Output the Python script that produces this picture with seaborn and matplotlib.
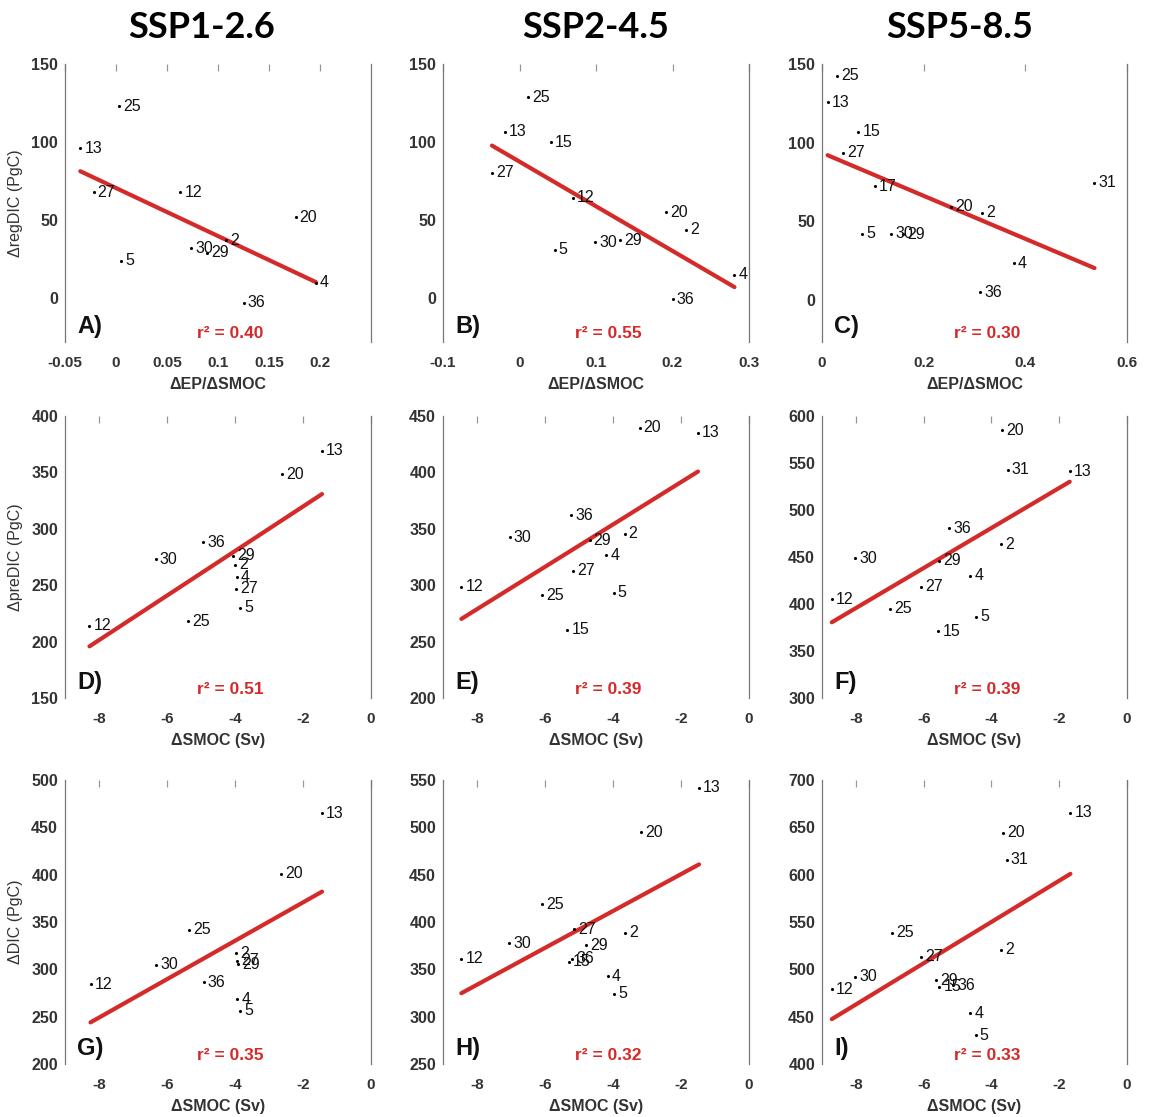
import numpy as np
import pandas as pd
import matplotlib
matplotlib.use("Agg")
import matplotlib.pyplot as plt
import seaborn as sns

# column titles, panel letters and r^2 shown on each panel
scenarios = ["SSP1-2.6", "SSP2-4.5", "SSP5-8.5"]
letters = ["A)", "B)", "C)", "D)", "E)", "F)", "G)", "H)", "I)"]
r2_values = [0.40, 0.55, 0.30, 0.51, 0.39, 0.39, 0.35, 0.32, 0.33]

# row 1: dEP/dSMOC vs regenerated DIC
models_a = ["25", "13", "27", "12", "20", "2", "30", "29", "5", "4", "36"]
x_a = [0.003, -0.035, -0.022, 0.063, 0.176, 0.108, 0.074, 0.089, 0.005, 0.196, 0.125]
y_a = [123, 96, 68, 68, 52, 37, 32, 29, 24, 10, -3]

models_b = ["25", "13", "15", "27", "12", "20", "2", "30", "29", "5", "4", "36"]
x_b = [0.011, -0.019, 0.041, -0.036, 0.070, 0.191, 0.218, 0.099, 0.131, 0.046, 0.281, 0.200]
y_b = [128.6, 106.5, 100, 80.4, 64.3, 55, 44, 36, 37, 31, 15, -0.5]

models_c = ["25", "13", "15", "27", "17", "31", "20", "2", "5", "30", "29", "4", "36"]
x_c = [0.030, 0.011, 0.071, 0.041, 0.104, 0.536, 0.254, 0.315, 0.079, 0.136, 0.160, 0.377, 0.311]
y_c = [142.6, 125.5, 106.8, 93.6, 72.3, 74.5, 59, 55.3, 42, 42, 41.5, 23, 4.7]

# row 2: dSMOC vs preformed DIC
models_d = ["13", "20", "36", "30", "29", "2", "4", "27", "5", "25", "12"]
x_d = [-1.44, -2.62, -4.93, -6.33, -4.05, -4.00, -3.95, -3.97, -3.85, -5.37, -8.28]
y_d = [369, 348.5, 288, 273, 276, 268, 257, 247, 230, 218, 214]

models_e = ["20", "13", "36", "30", "2", "29", "4", "27", "12", "25", "5", "15"]
x_e = [-3.22, -1.50, -5.23, -7.04, -3.66, -4.69, -4.20, -5.18, -8.46, -6.10, -3.98, -5.34]
y_e = [439.7, 435.3, 361.8, 342.6, 345.6, 339.7, 326.5, 312.6, 298.5, 291.2, 293.2, 260.3]

models_f = ["20", "31", "13", "36", "2", "30", "29", "4", "27", "12", "25", "5", "15"]
x_f = [-3.68, -3.52, -1.69, -5.24, -3.71, -8.02, -5.54, -4.62, -6.08, -8.71, -6.99, -4.45, -5.57]
y_f = [584.7, 543, 541.3, 480.8, 463.7, 448.8, 445.9, 430, 418.5, 405.3, 394.7, 386.5, 371.2]

# row 3: dSMOC vs total DIC
models_g = ["13", "20", "25", "2", "27", "29", "30", "12", "36", "4", "5"]
x_g = [-1.44, -2.64, -5.35, -3.98, -3.95, -3.90, -6.31, -8.25, -4.92, -3.94, -3.86]
y_g = [464.7, 401, 341.7, 317, 309, 305.6, 305, 284.5, 286.2, 268.6, 256.2]

models_h = ["13", "20", "25", "27", "2", "29", "30", "12", "36", "15", "4", "5"]
x_h = [-1.47, -3.18, -6.10, -5.15, -3.64, -4.78, -7.05, -8.46, -5.21, -5.30, -4.16, -3.96]
y_h = [541.8, 495, 418.8, 392.2, 388.7, 375.2, 377.3, 361, 361, 358, 342.6, 324]

models_i = ["13", "20", "31", "25", "2", "27", "30", "12", "29", "15", "36", "4", "5"]
x_i = [-1.67, -3.67, -3.55, -6.94, -3.73, -6.08, -8.02, -8.71, -5.64, -5.54, -5.14, -4.62, -4.47]
y_i = [665.4, 644.2, 615.9, 538.9, 520.5, 513.4, 492.2, 478.8, 488.7, 481.6, 483.4, 453.4, 430.4]

panels = [
    (models_a, x_a, y_a), (models_b, x_b, y_b), (models_c, x_c, y_c),
    (models_d, x_d, y_d), (models_e, x_e, y_e), (models_f, x_f, y_f),
    (models_g, x_g, y_g), (models_h, x_h, y_h), (models_i, x_i, y_i),
]

xlims = [(-0.05, 0.25), (-0.1, 0.3), (0, 0.6)] + [(-9, 0)] * 6
xticks = [
    [-0.05, 0, 0.05, 0.1, 0.15, 0.2],
    [-0.1, 0, 0.1, 0.2, 0.3],
    [0, 0.2, 0.4, 0.6],
] + [[-8, -6, -4, -2, 0]] * 6
ylims = [(-28, 150), (-28, 150), (-27, 150),
         (150, 400), (200, 450), (300, 600),
         (200, 500), (250, 550), (400, 700)]
ylabels = ["\u0394regDIC (PgC)", "\u0394preDIC (PgC)", "\u0394DIC (PgC)"]
xlabels = ["\u0394EP/\u0394SMOC", "\u0394SMOC (Sv)", "\u0394SMOC (Sv)"]

sns.set_theme(style="white")
plt.rcParams["font.family"] = ["Liberation Sans", "DejaVu Sans"]

W, H = 1153, 1117
fig = plt.figure(figsize=(W / 100, H / 100), dpi=100)

col_left = [65, 443, 822]
col_width = [306, 306, 305]
row_top = [64, 416, 780]
row_bot = [342, 698, 1064]
title_x = [202, 596, 960]

line_red = "#d42a2a"

for i, (models, xs, ys) in enumerate(panels):
    r, c = divmod(i, 3)
    ax = fig.add_axes([col_left[c] / W, 1 - row_bot[r] / H,
                       col_width[c] / W, (row_bot[r] - row_top[r]) / H])
    df = pd.DataFrame({"x": xs, "y": ys, "model": models})

    sns.regplot(data=df, x="x", y="y", ax=ax, ci=None, scatter=False,
                truncate=True, line_kws={"color": line_red, "lw": 3})
    sns.scatterplot(data=df, x="x", y="y", ax=ax, color="black", s=5,
                    linewidth=0, zorder=3)
    for m, xv, yv in zip(models, xs, ys):
        ax.annotate(m, (xv, yv), xytext=(3, 0), textcoords="offset points",
                    va="center", ha="left", fontsize=11.5, color="#111111")

    ax.set_xlim(*xlims[i])
    ax.set_ylim(*ylims[i])
    ax.set_xticks(xticks[i])
    ax.set_xticklabels([f"{t:g}" for t in xticks[i]])
    lo, hi = ylims[i]
    step = 50
    ax.set_yticks(np.arange(np.ceil(lo / step) * step, hi + 1, step))

    for side in ["top", "bottom"]:
        ax.spines[side].set_visible(False)
    for side in ["left", "right"]:
        ax.spines[side].set_color("#777777")
        ax.spines[side].set_linewidth(0.9)
    ax.tick_params(axis="x", bottom=False, top=True, labelbottom=True,
                   direction="in", length=5, width=0.9, color="#999999",
                   pad=10, labelsize=11, labelcolor="#333333")
    ax.tick_params(axis="y", left=False, length=0, pad=5, labelsize=11.5,
                   labelcolor="#333333")
    for lab in ax.get_xticklabels() + ax.get_yticklabels():
        lab.set_fontweight("bold")

    ax.set_xlabel(xlabels[r], fontsize=11.5, fontweight="bold",
                  color="#333333", labelpad=5)
    if c == 0:
        ax.set_ylabel(ylabels[r], fontsize=11.5, color="#333333", labelpad=6)
    else:
        ax.set_ylabel("")

    ax.text(0.04, 0.015, letters[i], transform=ax.transAxes, fontsize=17,
            fontweight="bold", color="#111111", va="bottom", ha="left")
    ax.text(0.54, 0.005, f"r\u00b2 = {r2_values[i]:.2f}", transform=ax.transAxes,
            fontsize=12.5, fontweight="bold", color=line_red,
            va="bottom", ha="center")

for c, name in enumerate(scenarios):
    fig.text(title_x[c] / W, 1 - 27 / H, name, fontsize=26, fontweight="bold",
             family=["Lato", "DejaVu Sans"], ha="center", va="center",
             color="black")

fig.savefig("out.png", dpi=100, facecolor="white")
